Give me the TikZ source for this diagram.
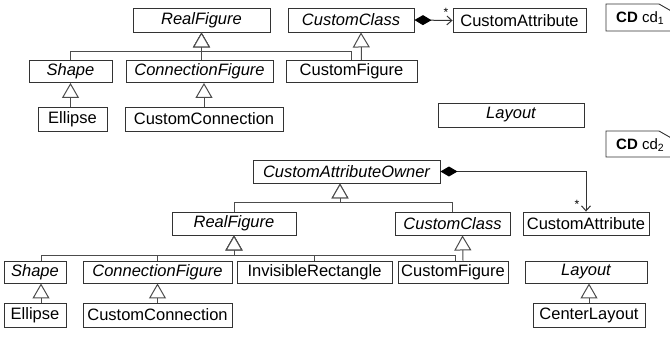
\documentclass[tikz,border=0pt]{standalone}
\usepackage{fontspec}
\setmainfont{Liberation Sans}
\usetikzlibrary{arrows.meta}
\tikzset{
  cls/.style={draw=black!80, line width=0.9pt, inner sep=0pt, minimum height=24pt, font=\fontsize{16.5}{18}\selectfont, text=black},
  abs/.style={cls, font=\fontsize{16.5}{18}\selectfont\itshape},
  gen/.style={draw=black!70, line width=1pt, -{Triangle[open, length=15pt, width=17pt, fill=white]}},
  comp/.style={draw=black!80, line width=1pt, {Diamond[length=17pt,width=10pt,fill=black,color=black]}-{Straight Barb[length=5pt,width=9pt]}},
  mult/.style={font=\fontsize{12}{12}\selectfont, inner sep=0pt},
  notebox/.style={draw=black!80, line width=0.9pt},
  notetxt/.style={font=\fontsize{15}{16}\selectfont, inner sep=0pt, anchor=west}
}
\begin{document}
\begin{tikzpicture}[x=1pt,y=-1pt]
\useasboundingbox (0,0) rectangle (670,337);
% ---------- top diagram ----------
\node[abs, minimum width=137pt] (rf1) at (201.5,20) {RealFigure};
\node[abs, minimum width=126pt] (cc1) at (351,20) {CustomClass};
\node[cls, minimum width=133pt] (ca1) at (519.5,20.5) {CustomAttribute};
\node[abs, minimum width=83pt, minimum height=22pt] (sh1) at (70.5,71.5) {Shape};
\node[abs, minimum width=147pt, minimum height=22pt] (cn1) at (199.5,71.5) {ConnectionFigure};
\node[cls, minimum width=131pt, minimum height=22pt] (cfig1) at (351.5,71.5) {CustomFigure};
\node[cls, minimum width=69pt] (el1) at (72.5,119) {Ellipse};
\node[cls, minimum width=158pt] (ccon1) at (204,119) {CustomConnection};
\node[abs, minimum width=146pt] (lay1) at (511,115) {Layout};
\draw[gen] (sh1.north) -- ++(0,-8.5) -| (rf1.south);
\draw[gen] (cn1.north -| rf1.south) -- (rf1.south);
\draw[gen] (cfig1.north) -- ++(0,-8.5) -| (rf1.south);
\draw[gen] ([xshift=10pt]cfig1.north) -- ([xshift=10pt]cc1.south);
\draw[gen] (el1.north -| sh1.south) -- (sh1.south);
\draw[gen] (ccon1.north) -- (ccon1.north |- cn1.south);
\draw[comp] (cc1.east) -- (ca1.west);
\node[mult] (m1) at (446,12.5) {*};
\draw[notebox] (606,4) -- (659,4) -- (673,12) -- (673,31) -- (606,31) -- cycle;
\node[notetxt] (n1) at (616,18) {\textbf{CD} cd\textsubscript{1}};
% ---------- bottom diagram ----------
\node[abs, minimum width=187pt, minimum height=23pt] (cao) at (346.5,171.5) {CustomAttributeOwner};
\node[abs, minimum width=124pt, minimum height=23pt] (rf2) at (234,223.5) {RealFigure};
\node[abs, minimum width=115pt, minimum height=23pt] (cc2) at (452.5,223.5) {CustomClass};
\node[cls, minimum width=126pt, minimum height=23pt] (ca2) at (586,223.5) {CustomAttribute};
\node[abs, minimum width=62pt, minimum height=22pt] (sh2) at (35,272) {Shape};
\node[abs, minimum width=149pt, minimum height=22pt] (cn2) at (157.5,272) {ConnectionFigure};
\node[cls, minimum width=155pt, minimum height=22pt] (ir2) at (314.5,272) {InvisibleRectangle};
\node[cls, minimum width=110pt, minimum height=22pt] (cf2) at (453,272) {CustomFigure};
\node[abs, minimum width=122pt, minimum height=22pt] (lay2) at (586,272) {Layout};
\node[cls, minimum width=62pt] (el2) at (35,315) {Ellipse};
\node[cls, minimum width=149pt] (ccon2) at (157.5,315) {CustomConnection};
\node[cls, minimum width=112pt] (cl2) at (589,315.5) {CenterLayout};
\draw[gen] (rf2.north) -- ++(0,-9) -| ([xshift=-6.5pt]cao.south);
\draw[gen] (cc2.north) -- ++(0,-9) -| ([xshift=-6.5pt]cao.south);
\draw[comp] (cao.east) -| (ca2.north);
\node[mult] (m2) at (577,204) {*};
\draw[gen] ([xshift=6pt]sh2.north) -- ++(0,-5.5) -| (rf2.south);
\draw[gen] (cn2.north) -- ++(0,-5.5) -| (rf2.south);
\draw[gen] (ir2.north) -- ++(0,-5.5) -| (rf2.south);
\draw[gen] ([xshift=2pt]cf2.north) -- ++(0,-5.5) -| (rf2.south);
\draw[gen] ([xshift=10pt]cf2.north) -- ([xshift=10pt]cc2.south);
\draw[gen] ([xshift=6pt]el2.north) -- ([xshift=6pt]sh2.south);
\draw[gen] (ccon2.north) -- (cn2.south);
\draw[gen] (cl2.north) -- (cl2.north |- lay2.south);
\draw[notebox] (606,131) -- (659,131) -- (673,139) -- (673,157) -- (606,157) -- cycle;
\node[notetxt] (n2) at (616,145) {\textbf{CD} cd\textsubscript{2}};
\end{tikzpicture}
\end{document}
